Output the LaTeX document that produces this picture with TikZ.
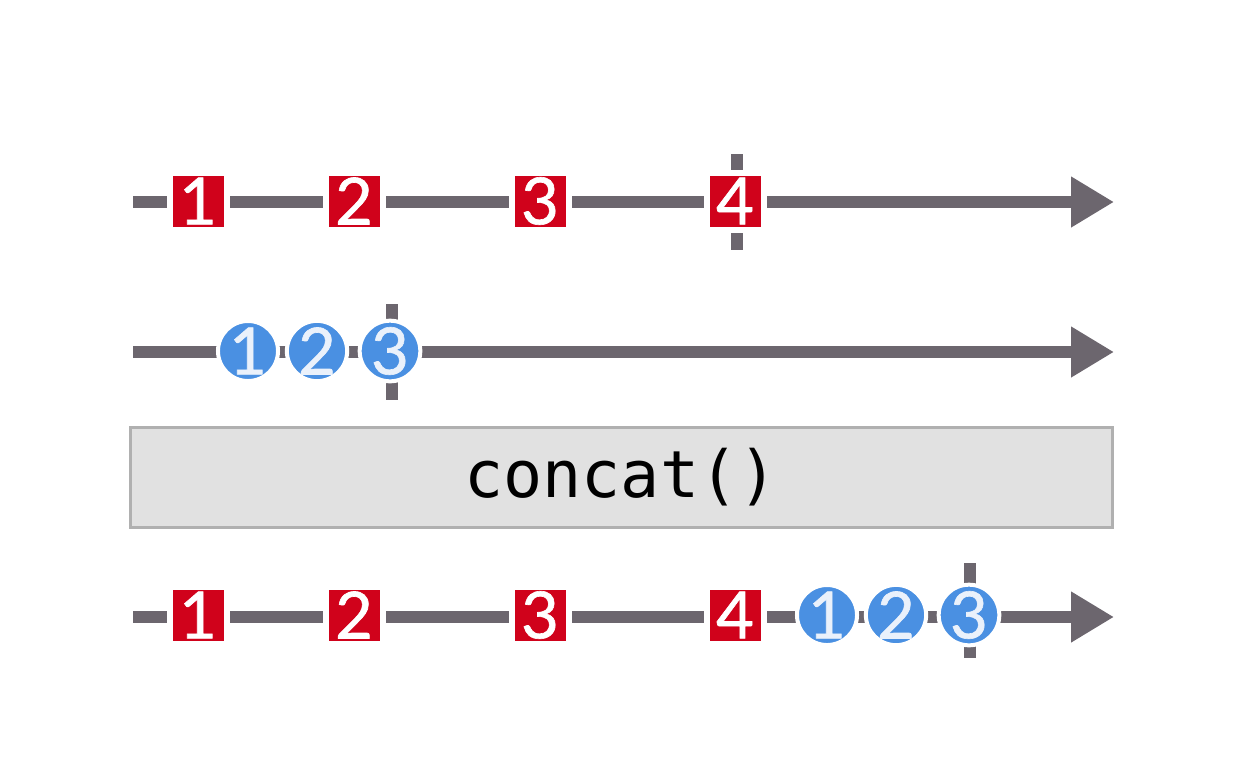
\documentclass[tikz,border=0pt]{standalone}
\usepackage{fontspec}
\newfontfamily\numfont{Lato}[FakeBold=1]
\newfontfamily\codefont{DejaVu Sans Mono}
\usetikzlibrary{arrows.meta}
\definecolor{tl}{RGB}{108,102,110}
\definecolor{mred}{RGB}{208,2,27}
\definecolor{mblue}{RGB}{74,144,226}
\definecolor{boxfill}{RGB}{225,225,225}
\definecolor{boxline}{RGB}{176,176,176}
\definecolor{numtext}{RGB}{234,241,251}
\begin{document}
\begin{tikzpicture}[x=0.5pt,y=-0.5pt,
  timeline/.style={draw=tl, line width=6pt, -{Triangle[length=21.5pt,width=24pt]}},
  endtick/.style={draw=tl, line width=6pt},
  sq/.style={fill=mred, draw=white, line width=3pt, minimum size=28.5pt, inner sep=0pt,
    text=white, font=\numfont\fontsize{32.5}{32.5}\selectfont},
  ci/.style={circle, fill=mblue, draw=white, line width=2pt, minimum size=29pt, inner sep=0pt,
    text=numtext, font=\numfont\fontsize{32.5}{32.5}\selectfont},
  opbox/.style={fill=boxfill, draw=boxline, line width=1.5pt, minimum width=491pt, minimum height=50pt,
    inner sep=0pt, font=\codefont\fontsize{32.5}{32.5}\selectfont}
]
\useasboundingbox (0,0) rectangle (1248,756);

% first timeline
\coordinate (s1) at (133,202);
\coordinate (e1) at (1114,202);
\draw[timeline] (s1) -- (e1);
\coordinate (t1a) at (737,154);
\coordinate (t1b) at (737,250);
\draw[endtick] (t1a) -- (t1b);
\node[sq] (a1) at (198,201) {1};
\node[sq] (a2) at (354,201) {2};
\node[sq] (a3) at (540,201) {3};
\node[sq] (a4) at (735,201) {4};

% second timeline
\coordinate (s2) at (133,352);
\coordinate (e2) at (1114,352);
\draw[timeline] (s2) -- (e2);
\coordinate (t2a) at (392,304);
\coordinate (t2b) at (392,400);
\draw[endtick] (t2a) -- (t2b);
\node[ci] (b1) at (248,351) {1};
\node[ci] (b2) at (317,351) {2};
\node[ci] (b3) at (390,351) {3};

% operator box
\node[opbox] (op) at (621,477) {concat()};

% result timeline
\coordinate (s3) at (133,617);
\coordinate (e3) at (1114,617);
\draw[timeline] (s3) -- (e3);
\coordinate (t3a) at (970,563);
\coordinate (t3b) at (970,658);
\draw[endtick] (t3a) -- (t3b);
\node[sq] (c1) at (198,615) {1};
\node[sq] (c2) at (354,615) {2};
\node[sq] (c3) at (540,615) {3};
\node[sq] (c4) at (735,615) {4};
\node[ci] (c5) at (827,615) {1};
\node[ci] (c6) at (896,615) {2};
\node[ci] (c7) at (969,615) {3};
\end{tikzpicture}
\end{document}
